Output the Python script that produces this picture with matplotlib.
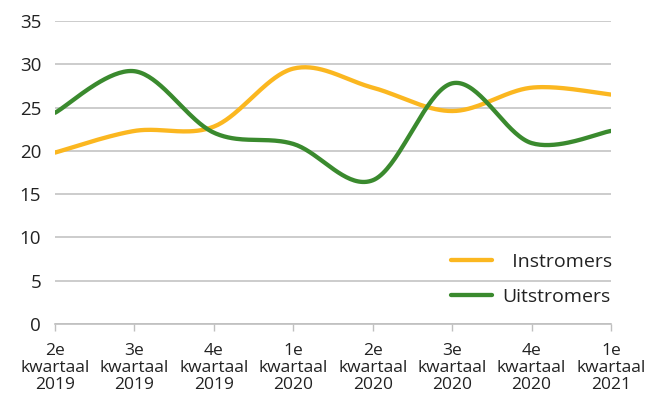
import numpy as np
import matplotlib
matplotlib.use("Agg")
import matplotlib.pyplot as plt

categories = ["2e\nkwartaal\n2019", "3e\nkwartaal\n2019", "4e\nkwartaal\n2019",
              "1e\nkwartaal\n2020", "2e\nkwartaal\n2020", "3e\nkwartaal\n2020",
              "4e\nkwartaal\n2020", "1e\nkwartaal\n2021"]
instromers = [19.8, 22.3, 22.8, 29.5, 27.3, 24.6, 27.3, 26.5]
uitstromers = [24.4, 29.2, 22.1, 20.8, 16.6, 27.8, 20.9, 22.3]
yticks = [0, 5, 10, 15, 20, 25, 30, 35]

plt.rcParams['font.family'] = ['Open Sans', 'DejaVu Sans']


def smooth(y, n=40):
    """Excel-style smoothed line (Catmull-Rom Bezier segments)."""
    x = np.arange(len(y), dtype=float)
    y = np.asarray(y, dtype=float)
    pts = np.column_stack([x, y])
    P = np.vstack([pts[0], pts, pts[-1]])
    out = []
    t = np.linspace(0, 1, n)[:, None]
    for i in range(1, len(P) - 2):
        p0, p1, p2, p3 = P[i - 1], P[i], P[i + 1], P[i + 2]
        c1 = p1 + (p2 - p0) / 6.0
        c2 = p2 - (p3 - p1) / 6.0
        seg = ((1 - t) ** 3) * p1 + 3 * ((1 - t) ** 2) * t * c1 + 3 * (1 - t) * t ** 2 * c2 + t ** 3 * p2
        out.append(seg if i == 1 else seg[1:])
    s = np.vstack(out)
    return s[:, 0], s[:, 1]


fig = plt.figure(figsize=(6.59, 4.01), dpi=100)
ax = fig.add_axes([55 / 659, 1 - 324 / 401, (611 - 55) / 659, (324 - 21) / 401])

orange = "#FBB720"
green = "#3A8A2E"
xs, ys = smooth(instromers)
ax.plot(xs, ys, color=orange, lw=3.1, label="  Instromers", solid_capstyle="round")
xs, ys = smooth(uitstromers)
ax.plot(xs, ys, color=green, lw=3.1, label="Uitstromers", solid_capstyle="round")

ax.set_xlim(0, len(categories) - 1)
ax.set_ylim(0, 35)
ax.set_yticks(yticks)
ax.set_xticks(range(len(categories)))
ax.set_xticklabels(categories, fontsize=12.5, linespacing=1.08, color="#222222")
ax.tick_params(axis="y", length=0, pad=10, labelsize=13.5, labelcolor="#222222")
ax.tick_params(axis="x", length=5, width=1, color="#bfbfbf", pad=9)
ax.grid(axis="y", color="#c4c4c4", lw=1.2)
ax.set_axisbelow(True)
for s in ["top", "right", "left"]:
    ax.spines[s].set_visible(False)
ax.spines["bottom"].set_color("#bfbfbf")
ax.spines["bottom"].set_linewidth(1.2)

leg = ax.legend(loc="lower right", bbox_to_anchor=(1.016, 0.035), frameon=False,
                fontsize=14, handlelength=2.1, handletextpad=0.5, labelspacing=0.85,
                borderaxespad=0)
for t in leg.get_texts():
    t.set_color("#222222")

fig.savefig("out.png", dpi=100)
